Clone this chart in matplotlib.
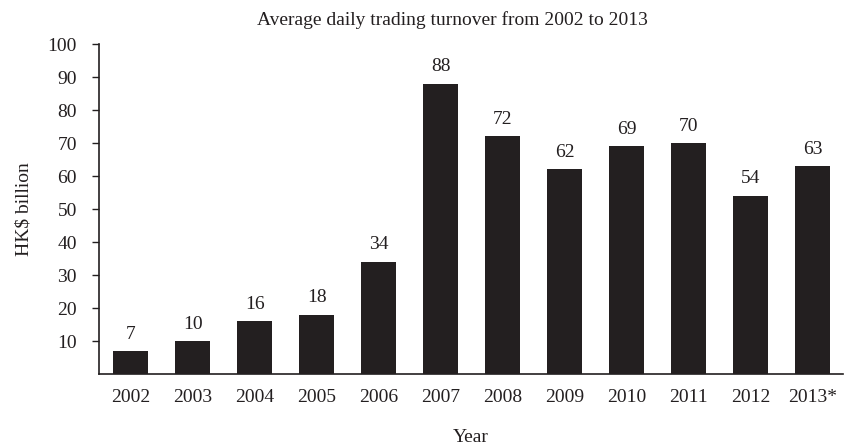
import matplotlib
matplotlib.use("Agg")
import matplotlib.pyplot as plt

years = ["2002", "2003", "2004", "2005", "2006", "2007",
         "2008", "2009", "2010", "2011", "2012", "2013*"]
turnover = [7, 10, 16, 18, 34, 88, 72, 62, 69, 70, 54, 63]
yticks = [10, 20, 30, 40, 50, 60, 70, 80, 90, 100]

plt.rcParams["font.family"] = ["Liberation Serif", "DejaVu Serif"]
ink = "#231f20"
fs = 14

fig = plt.figure(figsize=(8.44, 4.46), dpi=100)
ax = fig.add_axes([0.1173, 0.1614, 0.882, 0.7399])

x = list(range(len(years)))
ax.bar(x, turnover, width=0.575, color=ink)
for xi, v in zip(x, turnover):
    ax.annotate(str(v), (xi, v), xytext=(0, 6), textcoords="offset points",
                ha="center", va="bottom", fontsize=fs, color=ink)

ax.set_xlim(-0.51, 11.5)
ax.set_ylim(0, 100)
ax.set_xticks(x)
ax.set_xticklabels(years, fontsize=fs, color=ink)
ax.set_yticks(yticks)
ax.set_yticklabels([str(t) for t in yticks], fontsize=fs, color=ink)
ax.tick_params(axis="x", length=0, pad=11)
ax.tick_params(axis="y", direction="out", length=5, width=1, color=ink, pad=11)

for side in ["top", "right"]:
    ax.spines[side].set_visible(False)
for side in ["left", "bottom"]:
    ax.spines[side].set_color(ink)
    ax.spines[side].set_linewidth(1.2)

ax.set_xlabel("Year", fontsize=fs, color=ink, labelpad=16)
ax.set_ylabel("HK$ billion", fontsize=fs, color=ink, labelpad=11)
fig.text(0.536, 0.955, "Average daily trading turnover from 2002 to 2013",
         ha="center", va="center", fontsize=fs, color=ink)

fig.savefig("out.png", dpi=100)
